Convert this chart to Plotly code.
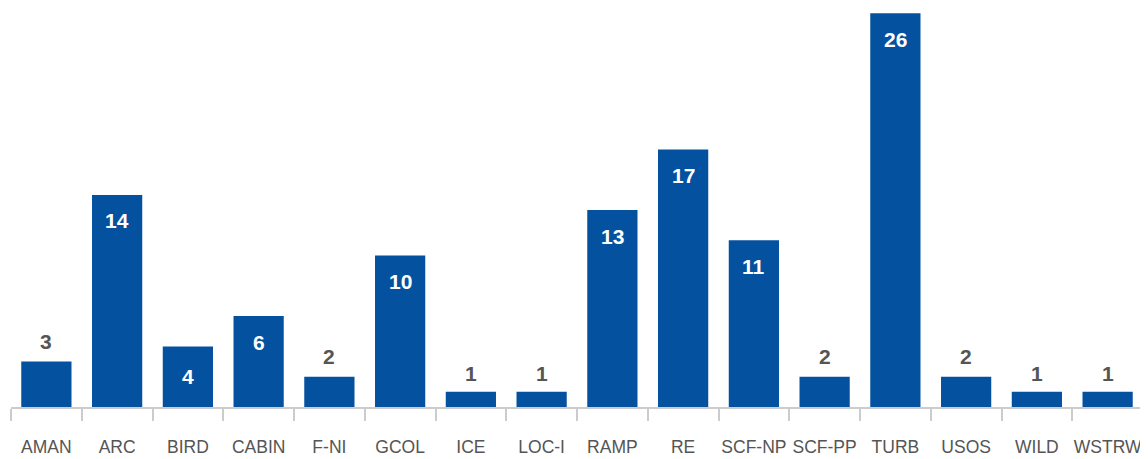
import plotly.graph_objects as go

categories = ["AMAN", "ARC", "BIRD", "CABIN", "F-NI", "GCOL", "ICE", "LOC-I",
              "RAMP", "RE", "SCF-NP", "SCF-PP", "TURB", "USOS", "WILD", "WSTRW"]
counts = [3, 14, 4, 6, 2, 10, 1, 1, 13, 17, 11, 2, 26, 2, 1, 1]

BAR = "#0451a0"
GRAY = "#555555"
FONT = "Liberation Sans, Arial, sans-serif"

fig = go.Figure(go.Bar(x=categories, y=counts, marker=dict(color=BAR, line=dict(width=0)),
                       hoverinfo="x+y"))

annotations = []
for c, v in zip(categories, counts):
    inside = v >= 4
    annotations.append(dict(
        x=c, y=v, xref="x", yref="y", text=str(v), showarrow=False,
        yshift=(-30 if v == 4 else -26) if inside else (18 if v == 1 else 20),
        font=dict(family=FONT, size=21, color="white" if inside else GRAY, weight="bold"),
    ))

fig.update_layout(
    width=1140, height=451,
    margin=dict(l=3, r=5, t=0, b=52),
    paper_bgcolor="white", plot_bgcolor="white",
    bargap=0.29,
    showlegend=False,
    annotations=annotations,
    xaxis=dict(showline=True, linecolor="#cccccc", linewidth=2,
               ticks="outside", tickson="boundaries", ticklen=12, tickwidth=2,
               tickcolor="#cccccc", showgrid=False, tickangle=0, automargin=False,
               ticklabelstandoff=23,
               tickfont=dict(family=FONT, size=17.5, color=GRAY)),
    yaxis=dict(range=[0, 26.34], visible=False, showgrid=False, zeroline=False),
)

fig.write_html("out.html")
